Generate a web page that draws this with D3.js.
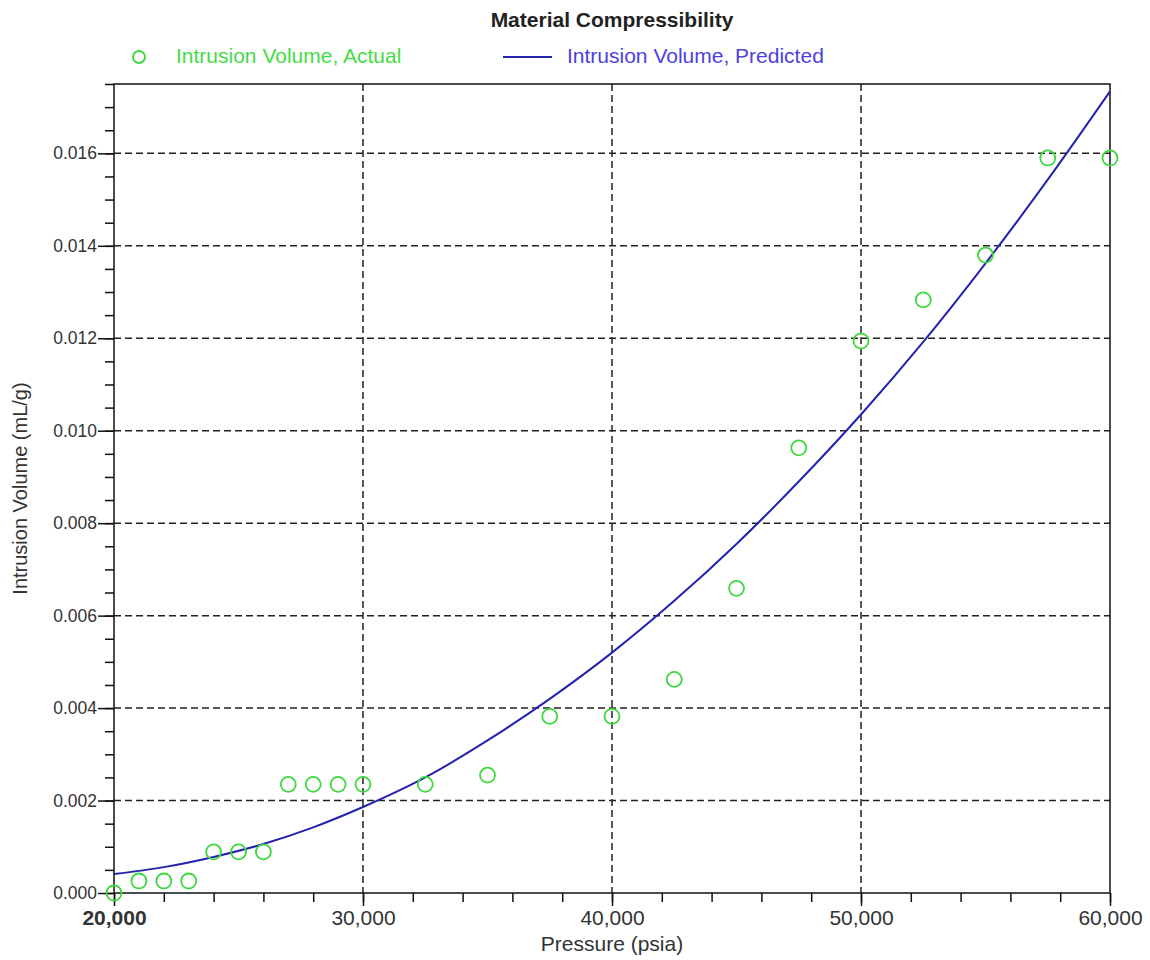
<!DOCTYPE html>
<html>
<head>
<meta charset="utf-8">
<script src="https://cdn.jsdelivr.net/npm/d3@7"></script>
<style>
  body { margin: 0; background: #fff; }
  svg { font-family: 'Liberation Sans', Arial, sans-serif; }
</style>
</head>
<body>
<div id="chart"></div>
<script>
// measured points
const actualPressure = [20000, 21000, 22000, 23000, 24000, 25000, 26000, 27000, 28000, 29000, 30000,
  32500, 35000, 37500, 40000, 42500, 45000, 47500, 50000, 52500, 55000, 57500, 60000]
const actualVolume = [0.0, 0.00026, 0.00026, 0.00026, 0.00089, 0.00089, 0.00089, 0.00235, 0.00235, 0.00235, 0.00235,
  0.00235, 0.00255, 0.00382, 0.00382, 0.00462, 0.00659, 0.00963, 0.01194, 0.01283, 0.0138, 0.0159, 0.0159]

// fitted curve
const predPressure = [20000, 22000, 24000, 26000, 28000, 30000, 32500, 35000, 37500, 40000,
  42500, 45000, 47500, 50000, 52500, 55000, 57500, 60000]
const predVolume = [0.00041, 0.00056, 0.00078, 0.00106, 0.00142, 0.00186, 0.0025, 0.0033, 0.0042, 0.0052,
  0.00632, 0.00755, 0.0089, 0.01035, 0.01192, 0.01362, 0.01543, 0.01734]

const xTicks = [20000, 30000, 40000, 50000, 60000]
const yTicks = [0, 0.002, 0.004, 0.006, 0.008, 0.010, 0.012, 0.014, 0.016]

const margin = { top: 84, left: 114, right: 40, bottom: 67 }
const width = 1150 - margin.left - margin.right
const height = 960 - margin.top - margin.bottom

const svg = d3
  .select('#chart')
  .append('svg')
  .attr('width', 1150)
  .attr('height', 960)

const g = svg
  .append('g')
  .attr('transform', 'translate(' + margin.left + ',' + margin.top + ')')

const x = d3.scaleLinear().domain([20000, 60000]).range([0, width])
const y = d3.scaleLinear().domain([0, 0.0175]).range([height, 0])

// dashed grid
g.selectAll('.vgrid')
  .data(xTicks.slice(1, -1))
  .enter()
  .append('line')
  .attr('x1', d => x(d))
  .attr('x2', d => x(d))
  .attr('y1', 0)
  .attr('y2', height)
  .attr('stroke', '#222')
  .attr('stroke-width', 1.5)
  .attr('stroke-dasharray', '7,4')

g.selectAll('.hgrid')
  .data(yTicks.slice(1))
  .enter()
  .append('line')
  .attr('x1', 0)
  .attr('x2', width)
  .attr('y1', d => y(d))
  .attr('y2', d => y(d))
  .attr('stroke', '#222')
  .attr('stroke-width', 1.5)
  .attr('stroke-dasharray', '7,4')

// minor ticks
g.append('g')
  .attr('transform', 'translate(0,' + height + ')')
  .call(d3.axisBottom(x).tickValues(d3.range(20000, 60001, 2000)).tickSize(9).tickFormat(''))
g.append('g')
  .call(d3.axisLeft(y).tickValues(d3.range(0, 0.01751, 0.0005)).tickSize(9).tickFormat(''))

// major axes
const xAxis = g
  .append('g')
  .attr('transform', 'translate(0,' + height + ')')
  .call(d3.axisBottom(x).tickValues(xTicks).tickSize(13).tickPadding(4).tickFormat(d3.format(',')))
const yAxis = g
  .append('g')
  .call(d3.axisLeft(y).tickValues(yTicks).tickSize(16).tickPadding(1).tickFormat(d3.format('.3f')))

g.selectAll('.domain').remove()
g.selectAll('.tick line').attr('stroke', '#111').attr('stroke-width', 1.5)
g.selectAll('.tick text').attr('fill', '#333')
xAxis.selectAll('.tick text').style('font-size', '21px')
yAxis.selectAll('.tick text').style('font-size', '17.5px')
xAxis.select('.tick text').style('font-weight', 'bold')

// frame
g.append('rect')
  .attr('width', width)
  .attr('height', height)
  .attr('fill', 'none')
  .attr('stroke', '#111')
  .attr('stroke-width', 1.5)

// predicted curve
const line = d3
  .line()
  .x(d => x(d[0]))
  .y(d => y(d[1]))
  .curve(d3.curveMonotoneX)

g.append('path')
  .datum(d3.zip(predPressure, predVolume))
  .attr('d', line)
  .attr('fill', 'none')
  .attr('stroke', '#2323b0')
  .attr('stroke-width', 2)

// actual points
g.selectAll('.pt')
  .data(d3.zip(actualPressure, actualVolume))
  .enter()
  .append('circle')
  .attr('class', 'pt')
  .attr('cx', d => x(d[0]))
  .attr('cy', d => y(d[1]))
  .attr('r', 7.5)
  .attr('fill', 'none')
  .attr('stroke', '#3ed83e')
  .attr('stroke-width', 1.8)

// titles
svg.append('text')
  .attr('x', margin.left + width / 2)
  .attr('y', 27)
  .attr('text-anchor', 'middle')
  .attr('font-weight', 'bold')
  .attr('font-size', '21px')
  .attr('fill', '#222')
  .text('Material Compressibility')

svg.append('text')
  .attr('x', margin.left + width / 2)
  .attr('y', 951)
  .attr('text-anchor', 'middle')
  .attr('font-size', '21px')
  .attr('fill', '#333')
  .text('Pressure (psia)')

svg.append('text')
  .attr('transform', 'translate(27,' + (margin.top + height / 2) + ') rotate(-90)')
  .attr('text-anchor', 'middle')
  .attr('font-size', '20px')
  .attr('fill', '#333')
  .text('Intrusion Volume (mL/g)')

// legend
svg.append('circle')
  .attr('cx', 139)
  .attr('cy', 57)
  .attr('r', 6)
  .attr('fill', 'none')
  .attr('stroke', '#3ed83e')
  .attr('stroke-width', 1.8)
svg.append('text')
  .attr('x', 176)
  .attr('y', 63)
  .attr('font-size', '21px')
  .attr('fill', '#45dc45')
  .text('Intrusion Volume, Actual')

svg.append('line')
  .attr('x1', 503)
  .attr('x2', 552)
  .attr('y1', 57)
  .attr('y2', 57)
  .attr('stroke', '#2323b0')
  .attr('stroke-width', 2)
svg.append('text')
  .attr('x', 567)
  .attr('y', 63)
  .attr('font-size', '21px')
  .attr('fill', '#4d3fe0')
  .text('Intrusion Volume, Predicted')
</script>
</body>
</html>
